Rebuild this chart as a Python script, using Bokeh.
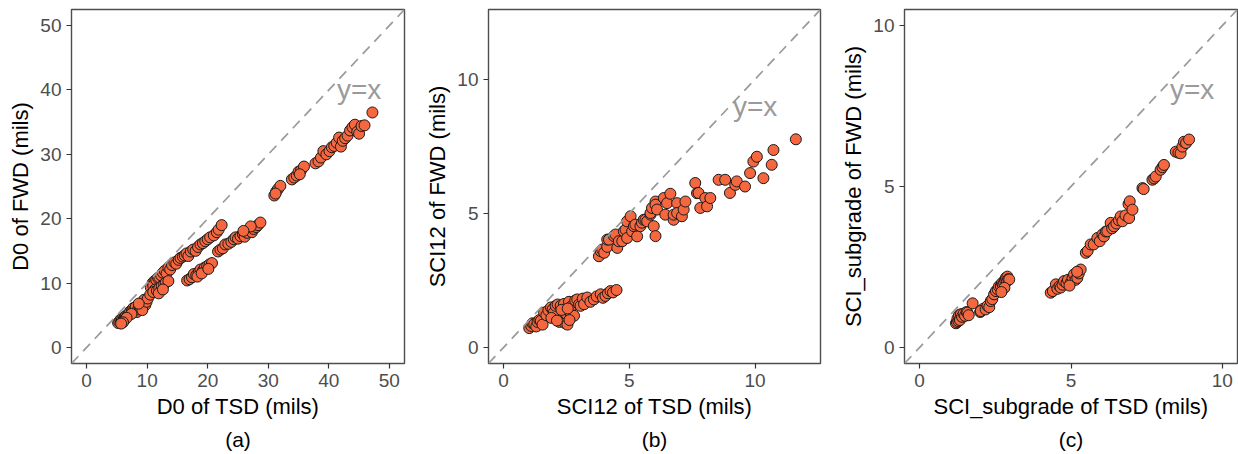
from bokeh.plotting import figure
from bokeh.layouts import row
from bokeh.models import Range1d, FixedTicker, Slope, Title, ColumnDataSource
from bokeh.core.properties import value
from bokeh.embed import file_html
from bokeh.resources import INLINE

# ---------------- data ----------------
# Panel (a): D0
a_tsd = [5.2, 5.4, 5.6, 5.8, 5.9, 6.1, 6.3, 6.5, 6.2, 6.8, 7.0, 7.2, 7.5, 7.7, 7.9, 8.1, 8.3, 8.5, 8.7, 8.9,
         9.1, 9.3, 9.5, 9.7, 9.2, 9.9, 10.1, 8.6, 7.4, 6.6, 6.0, 5.7,
         10.6, 10.9, 11.2, 11.0, 11.5, 11.8, 11.3, 12.0, 12.3, 12.6, 12.9, 13.2, 13.5, 13.8, 14.1, 14.5, 14.8, 15.2,
         15.5, 15.9, 16.2, 16.5, 16.8, 17.2, 17.6, 18.0, 18.4, 18.8, 19.2, 19.6, 20.0, 20.4, 21.0, 21.5, 21.8, 22.3,
         10.5, 11.0, 11.6, 12.0, 12.4, 12.8, 13.1, 13.5, 11.9, 12.6,
         16.6, 17.0, 17.4, 17.7, 18.1, 18.5, 18.8, 19.2, 19.5, 19.9, 20.3, 20.7, 18.3, 19.0, 20.1,
         21.7, 22.1, 22.5, 22.9, 23.4, 23.9, 24.3, 24.6, 25.0, 25.4, 25.8, 26.1, 26.5, 26.9, 27.3, 27.6, 28.0, 28.3,
         28.7, 27.1, 25.9,
         31.0, 31.3, 31.6, 32.0, 31.2,
         33.9, 34.3, 34.7, 35.0, 35.4, 35.9, 35.2,
         37.8, 38.3, 38.7, 39.1, 39.6, 40.1, 40.5, 40.9, 41.3, 41.7, 42.0, 42.3, 42.7, 43.1, 43.5, 43.9, 44.3, 44.7,
         45.0, 45.4, 45.9, 47.2]
a_fwd = [3.8, 4.0, 4.3, 4.1, 4.5, 4.4, 4.7, 4.9, 4.2, 5.0, 5.3, 5.6, 5.8, 6.1, 5.9, 6.3, 5.5, 5.9, 6.5, 6.2,
         6.8, 7.0, 7.4, 6.6, 5.8, 7.1, 7.6, 6.8, 5.2, 4.6, 3.9, 3.7,
         9.3, 10.0, 10.3, 9.6, 10.5, 10.8, 9.0, 10.9, 11.2, 11.6, 11.9, 11.5, 12.4, 12.1, 12.8, 13.2, 13.0, 13.6,
         13.9, 14.1, 14.3, 14.6, 14.2, 14.9, 15.2, 15.0, 15.6, 16.0, 16.2, 16.5, 16.8, 17.1, 17.4, 17.9, 18.3, 19.0,
         8.2, 8.6, 8.8, 9.2, 9.5, 9.8, 10.1, 10.3, 8.4, 9.0,
         10.4, 10.6, 10.9, 11.4, 11.2, 11.7, 12.1, 11.9, 12.4, 12.6, 12.9, 13.1, 11.0, 11.5, 12.2,
         14.9, 15.2, 15.4, 16.0, 16.1, 16.4, 16.8, 17.1, 16.9, 17.3, 17.6, 17.2, 17.8, 18.2, 17.9, 18.4, 18.7, 19.0,
         19.4, 18.8, 18.1,
         23.6, 24.2, 24.6, 25.1, 23.9,
         26.1, 26.4, 26.7, 27.3, 27.5, 28.1, 26.9,
         28.6, 28.9, 29.5, 30.5, 30.0, 30.5, 31.1, 31.3, 31.8, 32.6, 31.2, 32.1, 32.5, 32.9, 33.7, 34.2, 34.6, 33.5,
         33.2, 34.4, 34.5, 36.5]

# Panel (b): SCI12
b_tsd = [1.02, 1.1, 1.15, 1.22, 1.3, 1.35, 1.42, 1.48, 1.55, 1.61, 1.7, 1.78, 1.88, 1.95, 2.0, 2.07, 2.15, 2.22,
         2.27, 2.34, 2.4, 2.45, 2.5, 2.54, 2.6, 2.67, 2.72, 2.8, 2.85, 2.93, 3.0, 3.06, 3.15, 3.2, 3.33, 3.45, 3.59,
         3.7, 3.86, 3.95, 4.05, 4.15, 4.25, 4.35, 4.49, 2.3, 2.55, 1.9, 2.12, 2.62,
         3.79, 3.86, 3.92, 4.0, 4.12, 4.12, 4.19, 4.39, 4.45, 4.52, 4.58, 4.72, 4.78, 4.85, 4.91, 4.91, 5.05, 5.11,
         5.18, 5.24, 5.31, 5.44, 5.5, 5.57, 5.64, 5.71, 5.84, 5.84, 5.9, 5.97, 6.04, 6.04, 6.04, 6.1, 6.37, 6.43,
         6.5, 6.63, 6.76, 6.76, 6.9, 6.9, 7.09, 7.16, 7.23,
         7.62, 7.69, 7.75, 7.82, 8.02, 8.09, 8.22, 8.55, 8.81, 9.0, 9.21, 9.27, 9.6, 9.8, 9.93, 10.07, 10.33, 10.66,
         10.73, 11.62]
b_fwd = [0.72, 0.8, 0.9, 0.87, 0.78, 0.95, 1.02, 0.99, 0.85, 1.3, 1.2, 1.38, 1.49, 1.42, 1.3, 1.55, 1.6, 0.95,
         1.55, 1.05, 1.62, 0.9, 1.25, 0.85, 1.7, 1.17, 1.55, 1.18, 1.75, 1.79, 1.6, 1.55, 1.82, 1.61, 1.86, 1.7, 1.79,
         1.9, 1.98, 1.85, 1.92, 2.02, 2.1, 2.05, 2.14, 1.4, 1.45, 1.1, 1.0, 1.02,
         3.4, 3.59, 3.65, 3.53, 3.75, 4.02, 4.02, 4.15, 4.21, 3.71, 3.96, 3.96, 4.33, 4.39, 4.7, 4.08, 4.89, 4.33,
         4.52, 4.58, 4.14, 4.52, 4.65, 4.76, 4.76, 4.7, 4.95, 5.01, 5.2, 4.52, 5.44, 5.32, 4.15, 5.14, 5.57, 4.95,
         5.38, 5.73, 4.76, 4.95, 5.38, 5.01, 4.89, 5.14, 5.44,
         6.13, 5.75, 5.76, 5.2, 5.57, 5.26, 5.57, 6.25, 6.25, 5.76, 6.06, 6.19, 6.0, 6.5, 6.93, 7.11, 6.31, 6.81,
         7.36, 7.76]

# Panel (c): SCI_subgrade
c_tsd = [1.2, 1.23, 1.25, 1.28, 1.3, 1.33, 1.36, 1.4, 1.45, 1.5, 1.55, 1.58, 1.62, 1.75, 2.0, 2.05, 2.1, 2.02,
         2.18, 2.24, 2.3, 2.35, 2.4, 2.46, 2.52, 2.58, 2.62, 2.68, 2.72, 2.75, 2.79, 2.82, 2.85, 2.88, 2.9, 2.93,
         2.96, 2.8, 2.7,
         4.33, 4.4, 4.5, 4.55, 4.62, 4.66, 4.72, 4.77, 4.85, 4.9, 4.99, 5.05, 5.1, 5.15, 5.21, 5.26, 5.32, 5.2, 4.95,
         5.49, 5.55, 5.65, 5.75, 5.87, 5.95, 6.04, 6.09, 6.15, 6.2, 6.31, 6.36, 6.42, 6.5, 6.58, 6.64, 6.7, 6.8,
         6.92, 6.9, 6.94, 7.03, 7.36, 7.4, 7.69, 7.75, 7.8, 7.96, 8.02, 8.07, 8.46, 8.55, 8.62, 8.68, 8.73, 8.8, 8.9]
c_fwd = [0.75, 0.79, 0.9, 0.82, 1.0, 0.85, 1.03, 0.95, 1.05, 0.98, 1.1, 1.08, 1.0, 1.37, 1.1, 1.15, 1.2, 1.13,
         1.18, 1.29, 1.25, 1.44, 1.5, 1.65, 1.75, 1.8, 1.9, 1.91, 2.0, 1.95, 2.01, 2.1, 2.16, 2.05, 2.2, 2.12,
         2.11, 1.85, 1.72,
         1.7, 1.75, 1.96, 1.82, 1.9, 1.86, 1.95, 2.06, 2.0, 2.1, 2.01, 2.15, 2.27, 2.1, 2.16, 2.3, 2.42, 2.35, 1.92,
         2.94, 3.0, 3.2, 3.2, 3.4, 3.3, 3.51, 3.45, 3.6, 3.61, 3.87, 3.7, 3.76, 3.85, 3.95, 4.07, 3.92, 4.1,
         4.02, 4.45, 4.54, 4.28, 4.95, 4.92, 5.21, 5.25, 5.31, 5.52, 5.6, 5.67, 6.08, 6.05, 6.03, 6.24, 6.39, 6.35, 6.46]

x_titles = ["D0 of TSD (mils)", "SCI12 of TSD (mils)", "SCI_subgrade of TSD (mils)"]
y_titles = ["D0 of FWD (mils)", "SCI12 of FWD (mils)", "SCI_subgrade of FWD (mils)"]
captions = ["(a)", "(b)", "(c)"]
ticks_a = [0, 10, 20, 30, 40, 50]
ticks_b = [0, 5, 10]
ticks_c = [0, 5, 10]
ranges_a = (-2.5, 52.5)
ranges_b = (-0.6, 12.6)
ranges_c = (-0.5, 10.5)
label_xy_a = (45, 40)
label_xy_b = (10, 9)
label_xy_c = (9, 8)

FONT = "Liberation Sans"
POINT_FILL = "#F5673F"


def panel(xs, ys, rng, ticks, xt, yt, cap, lab, width, mbl, mbr):
    p = figure(width=width, height=454, output_backend="svg", toolbar_location=None,
               x_range=Range1d(*rng), y_range=Range1d(*rng),
               min_border_left=mbl, min_border_right=mbr, min_border_top=9, min_border_bottom=90)
    p.background_fill_color = "white"
    p.border_fill_color = "white"
    p.outline_line_color = "#4D4D4D"
    p.outline_line_width = 1.4
    p.xgrid.visible = False
    p.ygrid.visible = False
    for ax in (p.xaxis[0], p.yaxis[0]):
        ax.ticker = FixedTicker(ticks=ticks)
        ax.axis_line_color = None
        ax.major_tick_line_color = "#333333"
        ax.major_tick_line_width = 1.2
        ax.major_tick_in = 0
        ax.major_tick_out = 5
        ax.minor_tick_line_color = None
        ax.major_label_text_font = FONT
        ax.major_label_text_font_size = "19px"
        ax.major_label_text_color = "#4D4D4D"
        ax.major_label_standoff = 5
        ax.axis_label_text_font = FONT
        ax.axis_label_text_font_size = "22px"
        ax.axis_label_text_font_style = "normal"
        ax.axis_label_text_color = "black"
        ax.axis_label_standoff = 4
    p.xaxis.axis_label = xt
    p.yaxis.axis_label = yt

    p.add_layout(Slope(gradient=1, y_intercept=0, line_color="#9A9A9A", line_width=1.7,
                       line_dash="10 7"))
    src = ColumnDataSource(dict(x=xs, y=ys))
    p.scatter("x", "y", source=src, size=11, fill_color=POINT_FILL, line_color="#1a1a1a",
              line_width=1.0)
    p.text(x=[lab[0]], y=[lab[1]], text=["y=x"], text_font=value(FONT), text_font_size="28px",
           text_color="#9A9A9A", text_align="center", text_baseline="middle")
    p.add_layout(Title(text=cap, align="center", text_font=FONT, text_font_size="21px",
                       text_font_style="normal", text_color="black", standoff=8), "below")
    return p


pa = panel(a_tsd, a_fwd, ranges_a, ticks_a, x_titles[0], y_titles[0], captions[0], label_xy_a, 410, 71, 6)
pb = panel(b_tsd, b_fwd, ranges_b, ticks_b, x_titles[1], y_titles[1], captions[1], label_xy_b, 412, 78, 2)
pc = panel(c_tsd, c_fwd, ranges_c, ticks_c, x_titles[2], y_titles[2], captions[2], label_xy_c, 416, 82, 1)

layout = row(pa, pb, pc, spacing=0)
open("out.html", "w").write(file_html(layout, INLINE))
